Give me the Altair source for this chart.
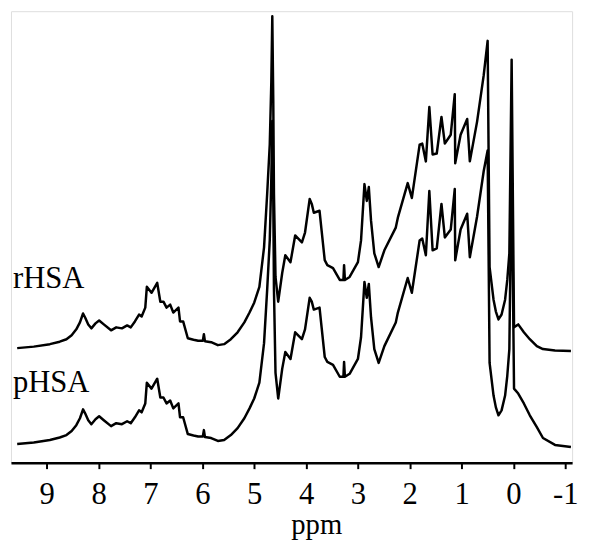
import altair as alt
import pandas as pd

# chemical shift (ppm)
ppm = [9.57, 9.25, 8.94, 8.75, 8.62, 8.52, 8.43, 8.36, 8.30, 8.26, 8.20, 8.14, 8.06, 7.99, 7.90,
       7.76, 7.66, 7.55, 7.45, 7.38, 7.30, 7.22, 7.17, 7.10, 7.07, 6.98, 6.87, 6.81, 6.75, 6.69,
       6.62, 6.56, 6.46, 6.43, 6.37, 6.28, 6.17, 6.08, 5.99, 5.97, 5.95, 5.83, 5.70, 5.58, 5.45,
       5.32, 5.19, 5.09, 5.00, 4.90, 4.81, 4.75, 4.70, 4.67, 4.651, 4.632, 4.619, 4.589, 4.537,
       4.46, 4.40, 4.30, 4.21, 4.08, 4.02, 3.93, 3.89, 3.85, 3.74, 3.70, 3.64, 3.59, 3.48, 3.35,
       3.28, 3.267, 3.251, 3.16, 3.00, 2.94, 2.874, 2.829, 2.79, 2.747, 2.684, 2.60, 2.49, 2.27,
       2.23, 2.04, 1.96, 1.81, 1.76, 1.69, 1.623, 1.56, 1.48, 1.389, 1.324, 1.21, 1.133, 1.124,
       1.02, 0.893, 0.842, 0.703, 0.575, 0.499, 0.461, 0.385, 0.34, 0.29, 0.23, 0.162, 0.12,
       0.08, 0.036, -0.010, -0.091, -0.20, -0.314, -0.45, -0.568, -0.80, -1.107]

# intensities (arbitrary units, above each spectrum's own baseline)
rhsa = [3, 4.5, 7, 9.5, 12, 16, 22, 29, 38, 34, 27, 23, 28, 31, 27,
        21, 24, 23, 26, 24, 30, 37, 35, 44, 65, 59, 69, 50, 50, 44,
        47, 39, 44, 30, 30, 13, 11.5, 10.5, 10.5, 17, 10, 9, 6, 7, 12,
        19, 29, 39, 49, 65, 105, 159, 209, 272, 339, 252, 159, 75, 50,
        79, 97, 90, 117, 110, 120, 154, 149, 140, 142, 122, 92, 87, 84, 72,
        72, 87, 72, 75, 90, 112, 169, 152, 166, 132, 99, 85, 102, 125,
        135, 170, 155, 209, 210, 192, 247, 199, 200, 237, 210, 219, 260, 190,
        219, 235, 192, 232, 279, 314, 85, 52, 40, 32, 37, 52, 72,
        99, 295, 24, 27, 19, 12, 5, 2, 0.5, 0]

phsa = [3, 4.5, 7, 9.5, 12, 16, 22, 29, 38, 34, 27, 23, 28, 31, 27,
        21, 24, 23, 26, 24, 30, 37, 35, 44, 65, 59, 69, 50, 50, 44,
        47, 39, 44, 30, 30, 13, 11.5, 10.5, 10.5, 17, 10, 9, 6, 7, 12,
        19, 29, 39, 49, 65, 105, 159, 209, 272, 330, 252, 159, 75, 49,
        79, 96, 89, 116, 109, 119, 151, 147, 139, 141, 121, 91, 86, 83, 71,
        71, 86, 71, 74, 89, 111, 167, 151, 165, 131, 99, 85, 102, 126,
        136, 171, 156, 209, 211, 194, 259, 199, 201, 246, 212, 220, 261, 189,
        220, 236, 192, 233, 279, 300, 85, 52, 40, 32, 37, 52, 72,
        99, 290, 59, 54, 44, 32, 20, 9, 2, 0]

series_names = ["rHSA", "pHSA"]
stack_offset = {"rHSA": 113, "pHSA": 16}   # vertical stacking of the two spectra
tick_values = [9, 8, 7, 6, 5, 4, 3, 2, 1, 0, -1]

rows = []
for name, vals in zip(series_names, [rhsa, phsa]):
    for i, (p, v) in enumerate(zip(ppm, vals)):
        rows.append({"ppm": p, "signal": v + stack_offset[name], "series": name, "order": i})
df = pd.DataFrame(rows)

FONT = "Liberation Serif"

x_enc = alt.X(
    "ppm:Q",
    scale=alt.Scale(domain=[9.69, -1.13], nice=False, zero=False),
    axis=alt.Axis(
        values=tick_values,
        labelExpr="'' + datum.value",
        title="ppm",
        grid=False,
        domainColor="black",
        domainWidth=2.5,
        tickColor="black",
        tickWidth=2,
        tickSize=6,
        labelFont=FONT,
        labelFontSize=31,
        labelColor="black",
        labelBaseline="alphabetic",
        labelPadding=35,
        labelFlush=False,
        labelOverlap=False,
        titleFont=FONT,
        titleFontSize=29,
        titleFontWeight="normal",
        titleColor="black",
        titleX=309,
        titleY=72,
        titleAlign="center",
        titleBaseline="alphabetic",
    ),
)
y_enc = alt.Y("signal:Q", scale=alt.Scale(domain=[0, 457], nice=False, zero=False), axis=None)

lines = alt.Chart(df).mark_line(color="black", strokeWidth=2.5, strokeJoin="round").encode(
    x=x_enc, y=y_enc, detail="series:N", order="order:Q"
)

label_r = alt.Chart(pd.DataFrame({"name": [series_names[0]]})).mark_text(
    font=FONT, fontSize=31, color="black", align="left", baseline="alphabetic"
).encode(text="name:N", x=alt.value(2), y=alt.value(280))

label_p = alt.Chart(pd.DataFrame({"name": [series_names[1]]})).mark_text(
    font=FONT, fontSize=31, color="black", align="left", baseline="alphabetic"
).encode(text="name:N", x=alt.value(2), y=alt.value(385))

chart = (
    alt.layer(lines, label_r, label_p)
    .properties(
        width=568,
        height=457,
        autosize=alt.AutoSizeParams(type="none"),
        padding={"left": 3, "top": 0, "right": 9, "bottom": 77},
    )
    .configure_view(stroke=None)
    .configure(background="white")
)

chart.save("out.html", embed_options={"renderer": "svg", "actions": False})
